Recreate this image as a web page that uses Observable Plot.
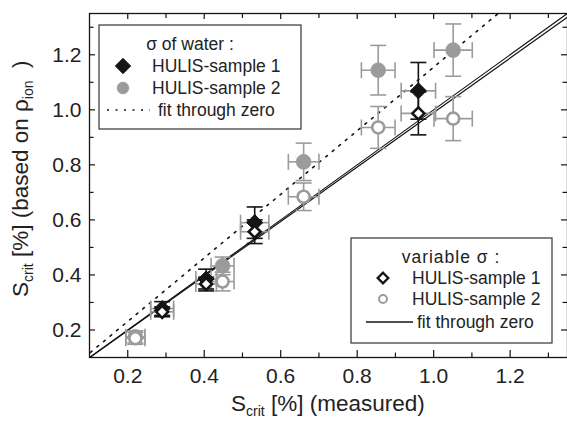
<!DOCTYPE html>
<html><head><meta charset="utf-8">
<script src="https://cdn.jsdelivr.net/npm/d3@7"></script>
<script src="https://cdn.jsdelivr.net/npm/@observablehq/plot@0.6"></script>
<style>
body{margin:0;background:#fff;}
svg{font-family:"Liberation Sans",Arial,Helvetica,sans-serif;}
</style>
</head><body><div id="chart"></div>
<script>
// ---- data ----
// HULIS-sample 1 (diamonds)
const s1X      = [0.29, 0.405, 0.532, 0.96];
const s1XErr   = [0.03, 0.027, 0.037, 0.045];
const s1YWater = [0.278, 0.385, 0.590, 1.069];
const s1YWaterErr = [0.025, 0.036, 0.057, 0.103];
const s1YVar   = [0.266, 0.367, 0.557, 0.987];
const s1YVarErr = [0.018, 0.025, 0.043, 0.078];
// HULIS-sample 2 (circles)
const s2X      = [0.22, 0.448, 0.66, 0.855, 1.051];
const s2XErr   = [0.025, 0.03, 0.04, 0.044, 0.05];
const s2YWater = [0.175, 0.433, 0.811, 1.144, 1.217];
const s2YWaterErr = [0.022, 0.032, 0.068, 0.09, 0.095];
const s2YVar   = [0.170, 0.376, 0.684, 0.936, 0.968];
const s2YVarErr = [0.022, 0.034, 0.05, 0.076, 0.08];
// fits through zero (slopes)
const fitSlopeWater = 1.155;
const fitSlopesVariable = [1.0, 0.99];
// ticks
const xTickLabels = [0.2, 0.4, 0.6, 0.8, 1.0, 1.2];
const xMinorTicks = [0.3, 0.5, 0.7, 0.9, 1.1, 1.3];
const yTickLabels = [0.2, 0.4, 0.6, 0.8, 1.0, 1.2];
const yMinorTicks = [0.3, 0.5, 0.7, 0.9, 1.1, 1.3];
const xDomain = [0.1, 1.35];
const yDomain = [0.1, 1.35];

// ---- layout ----
const W = 567, H = 421, mL = 89, mR = 0, mT = 13, mB = 64;
const pW = W - mL - mR, pH = H - mT - mB;
const black = "#141414", grey = "#9b9b9b", textCol = "#222";

const rows1 = s1X.map((x, i) => ({x, ex: s1XErr[i], yw: s1YWater[i], ew: s1YWaterErr[i], yv: s1YVar[i], ev: s1YVarErr[i]}));
const rows2 = s2X.map((x, i) => ({x, ex: s2XErr[i], yw: s2YWater[i], ew: s2YWaterErr[i], yv: s2YVar[i], ev: s2YVarErr[i]}));

const hCap = {draw(ctx, size) { const r = Math.sqrt(size / Math.PI); ctx.moveTo(-r, 0); ctx.lineTo(r, 0); }};
const vCap = {draw(ctx, size) { const r = Math.sqrt(size / Math.PI); ctx.moveTo(0, -r); ctx.lineTo(0, r); }};

function errorBars(rows, yKey, eKey, vColor, hColor) {
  const cap = 8, sw = 1.6;
  return [
    Plot.ruleY(rows, {y: yKey, x1: d => d.x - d.ex, x2: d => d.x + d.ex, stroke: hColor, strokeWidth: sw}),
    Plot.dot(rows, {x: d => d.x - d.ex, y: yKey, symbol: vCap, r: cap, fill: "none", stroke: hColor, strokeWidth: sw}),
    Plot.dot(rows, {x: d => d.x + d.ex, y: yKey, symbol: vCap, r: cap, fill: "none", stroke: hColor, strokeWidth: sw}),
    Plot.ruleX(rows, {x: "x", y1: d => d[yKey] - d[eKey], y2: d => d[yKey] + d[eKey], stroke: vColor, strokeWidth: sw}),
    Plot.dot(rows, {x: "x", y: d => d[yKey] - d[eKey], symbol: hCap, r: cap, fill: "none", stroke: vColor, strokeWidth: sw}),
    Plot.dot(rows, {x: "x", y: d => d[yKey] + d[eKey], symbol: hCap, r: cap, fill: "none", stroke: vColor, strokeWidth: sw})
  ];
}

const fitXs = [0, xDomain[1]];

const chart = Plot.plot({
  width: W, height: H,
  marginLeft: mL, marginRight: mR, marginTop: mT, marginBottom: mB,
  style: {background: "#fff", color: textCol, fontFamily: '"Liberation Sans", Arial, sans-serif'},
  x: {domain: xDomain, label: null},
  y: {domain: yDomain, label: null},
  marks: [
    // fit lines
    Plot.line(fitXs, {x: d => d, y: d => d * fitSlopeWater, stroke: black, strokeWidth: 1.6, strokeDasharray: "2,6.5", clip: true}),
    ...fitSlopesVariable.map(k => Plot.line(fitXs, {x: d => d, y: d => d * k, stroke: black, strokeWidth: 1.2, clip: true})),
    // error bars
    ...errorBars(rows2, "yw", "ew", grey, grey),
    ...errorBars(rows2, "yv", "ev", grey, grey),
    ...errorBars(rows1, "yw", "ew", black, grey),
    ...errorBars(rows1, "yv", "ev", black, grey),
    // markers
    Plot.dot(rows2, {x: "x", y: "yw", r: 7.5, fill: grey, stroke: grey, strokeWidth: 0.5}),
    Plot.dot(rows1, {x: "x", y: "yw", symbol: "diamond2", r: 7.2, fill: black, stroke: black, strokeWidth: 1}),
    Plot.dot(rows2, {x: "x", y: "yv", r: 6, fill: "#fff", stroke: grey, strokeWidth: 2.6}),
    Plot.dot(rows1, {x: "x", y: "yv", symbol: "diamond2", r: 5.4, fill: "#fff", stroke: black, strokeWidth: 2.6}),
    // inward ticks
    Plot.tickX(xTickLabels, {x: d => d, insetTop: pH - 7, stroke: black, strokeWidth: 1.2}),
    Plot.tickX(xMinorTicks, {x: d => d, insetTop: pH - 4.5, stroke: black, strokeWidth: 1.2}),
    Plot.tickX(xTickLabels, {x: d => d, insetBottom: pH - 6, stroke: black, strokeWidth: 1.2}),
    Plot.tickX(xMinorTicks, {x: d => d, insetBottom: pH - 5, stroke: black, strokeWidth: 1.2}),
    Plot.tickY(yTickLabels, {y: d => d, insetRight: pW - 6, stroke: black, strokeWidth: 1.2}),
    Plot.tickY(yMinorTicks, {y: d => d, insetRight: pW - 4.5, stroke: black, strokeWidth: 1.2}),
    Plot.tickY(yTickLabels, {y: d => d, insetLeft: pW - 6, stroke: black, strokeWidth: 1.2}),
    Plot.tickY(yMinorTicks, {y: d => d, insetLeft: pW - 4.5, stroke: black, strokeWidth: 1.2}),
    // axes labels
    Plot.axisX(xTickLabels, {tickSize: 0, tickPadding: 11, fontSize: 21, tickFormat: d3.format(".1f")}),
    Plot.axisY(yTickLabels, {tickSize: 0, tickPadding: 8, fontSize: 21, tickFormat: d3.format(".1f")}),
    Plot.frame({stroke: black, strokeWidth: 1.3})
  ]
});
document.getElementById("chart").appendChild(chart);

// ---- axis titles and legends (real SVG text) ----
const svg = d3.select(chart);
const g = svg.append("g").attr("fill", textCol).attr("text-anchor", "start");

const xt = g.append("text").attr("x", 231).attr("y", 411).attr("font-size", 22.5).attr("text-anchor", "start");
xt.append("tspan").text("S");
xt.append("tspan").attr("font-size", 14).attr("dy", 5).text("crit");
xt.append("tspan").attr("dy", -5).text(" [%] (measured)");

const yt = g.append("text").attr("transform", "translate(28,297) rotate(-90)").attr("font-size", 22.5).attr("text-anchor", "start");
yt.append("tspan").text("S");
yt.append("tspan").attr("font-size", 14).attr("dy", 5).text("crit");
yt.append("tspan").attr("dy", -5).text(" [%] (based on ρ");
yt.append("tspan").attr("font-size", 14).attr("dy", 5).text("ion");
yt.append("tspan").attr("dy", -5).text("  )");

function legend(box, title, items) {
  const lg = svg.append("g").attr("text-anchor", "start");
  lg.append("rect").attr("x", box[0]).attr("y", box[1]).attr("width", box[2]).attr("height", box[3])
    .attr("fill", "#fff").attr("stroke", "#333").attr("stroke-width", 1.2);
  lg.append("text").attr("x", title.x).attr("y", title.y).attr("text-anchor", "middle")
    .attr("font-size", 17.5).attr("letter-spacing", title.ls || 0).attr("fill", textCol).text(title.text);
  for (const it of items) {
    if (it.kind === "line") {
      lg.append("line").attr("x1", it.x1).attr("x2", it.x2).attr("y1", it.y).attr("y2", it.y)
        .attr("stroke", black).attr("stroke-width", it.sw).attr("stroke-dasharray", it.dash || null);
    } else {
      lg.append("path").attr("transform", `translate(${it.sx},${it.y})`)
        .attr("d", d3.symbol(it.kind === "diamond" ? d3.symbolDiamond2 : d3.symbolCircle, it.size)())
        .attr("fill", it.fill).attr("stroke", it.stroke).attr("stroke-width", it.sw);
    }
    lg.append("text").attr("x", it.tx).attr("y", it.y + 6).attr("font-size", 17.5)
      .attr("text-anchor", "start").attr("fill", textCol).text(it.label);
  }
}

legend([99, 25, 202, 104], {x: 190, y: 50, text: "σ of water :"}, [
  {kind: "diamond", sx: 123, y: 66, size: 150, fill: black, stroke: black, sw: 1, tx: 152, label: "HULIS-sample 1"},
  {kind: "circle", sx: 123, y: 88, size: 113, fill: grey, stroke: grey, sw: 0.5, tx: 152, label: "HULIS-sample 2"},
  {kind: "line", x1: 107, x2: 150, y: 110, sw: 1.5, dash: "2,6.5", tx: 158, label: "fit through zero"}
]);
legend([351, 238, 201, 105], {x: 451, y: 263, text: "variable σ :", ls: 1}, [
  {kind: "diamond", sx: 383, y: 278, size: 70, fill: "#fff", stroke: black, sw: 2.4, tx: 412, label: "HULIS-sample 1"},
  {kind: "circle", sx: 383, y: 299, size: 50, fill: "#fff", stroke: grey, sw: 2, tx: 412, label: "HULIS-sample 2"},
  {kind: "line", x1: 366, x2: 413, y: 322, sw: 1.3, tx: 417, label: "fit through zero"}
]);
</script>
</body></html>
